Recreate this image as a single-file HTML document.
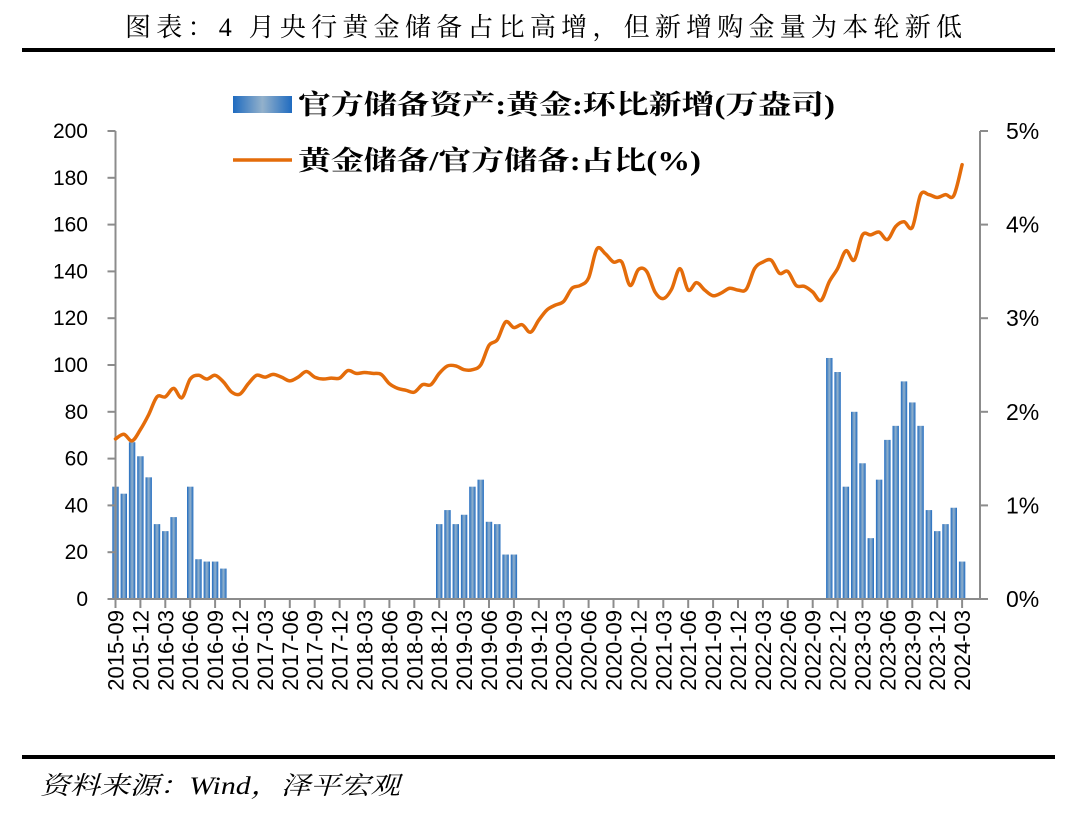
<!DOCTYPE html>
<html><head><meta charset="utf-8"><style>
body{margin:0;background:#fff;}
svg{display:block;}
</style></head><body>
<svg id="chart" width="1073" height="819" viewBox="0 0 1073 819" xmlns="http://www.w3.org/2000/svg">
<defs>
<linearGradient id="barGrad" x1="0" x2="1" y1="0" y2="0">
<stop offset="0" stop-color="#1F6BC0"/><stop offset="0.5" stop-color="#93B1CB"/><stop offset="1" stop-color="#1F6BC0"/>
</linearGradient>
</defs>
<text x="125" y="36" font-size="26" font-family="'Liberation Serif','Noto Serif CJK SC',serif" textLength="837" lengthAdjust="spacing">图表：4 月央行黄金储备占比高增，但新增购金量为本轮新低</text>
<rect x="22" y="48" width="1033" height="4" fill="#000"/>
<rect x="22" y="755" width="1033" height="4" fill="#000"/>
<text x="40" y="794" font-size="25" font-style="italic" font-family="'Liberation Serif','Noto Serif CJK SC',serif" textLength="360" lengthAdjust="spacingAndGlyphs">资料来源：Wind，泽平宏观</text>
<g>
<rect x="233" y="96" width="59" height="17" fill="url(#barGrad)"/>
<text x="298" y="114" font-size="27" font-weight="bold" font-family="'Liberation Serif','Noto Serif CJK SC',serif" textLength="537" lengthAdjust="spacingAndGlyphs">官方储备资产:黄金:环比新增(万盎司)</text>
<line x1="233" y1="160" x2="292" y2="160" stroke="#E46C0A" stroke-width="3.5"/>
<text x="298" y="170" font-size="27" font-weight="bold" font-family="'Liberation Serif','Noto Serif CJK SC',serif" textLength="403" lengthAdjust="spacingAndGlyphs">黄金储备/官方储备:占比(%)</text>
</g>
<g id="plot"></g>
</svg>
<script>
const startYear = 2015, startMonth = 9, monthCount = 103;
const barValues = [48,45,67,61,52,32,29,35,0,48,17,16,16,13,
0,0,0,0,0,0,0,0,0,0,0,0,0,0,0,0,0,0,0,0,0,0,0,0,0,
32,38,32,36,48,51,33,32,19,19,
0,0,0,0,0,0,0,0,0,0,0,0,0,0,0,0,0,0,0,0,0,0,0,0,0,0,0,0,0,0,0,0,0,0,0,0,0,
103,97,48,80,58,26,51,68,74,93,84,74,38,29,32,39,16];
const ratioValues = [1.71,1.76,1.69,1.81,1.97,2.16,2.16,2.25,2.15,2.35,2.39,2.35,2.39,2.32,2.21,2.19,2.30,2.39,2.37,2.40,2.37,2.33,2.37,2.43,2.37,2.35,2.36,2.36,2.44,2.41,2.42,2.41,2.40,2.30,2.25,2.23,2.21,2.29,2.29,2.41,2.49,2.49,2.45,2.45,2.50,2.71,2.77,2.96,2.90,2.93,2.85,2.98,3.09,3.14,3.18,3.32,3.35,3.43,3.74,3.69,3.60,3.60,3.35,3.52,3.50,3.28,3.21,3.31,3.53,3.30,3.38,3.30,3.24,3.27,3.32,3.30,3.31,3.53,3.60,3.62,3.48,3.50,3.35,3.34,3.28,3.19,3.39,3.53,3.72,3.62,3.89,3.89,3.92,3.84,3.98,4.03,3.97,4.32,4.32,4.29,4.32,4.31,4.64];
const leftTicks = [0,20,40,60,80,100,120,140,160,180,200];
const rightTicks = [0,1,2,3,4,5];
const rightTickLabels = ["0%","1%","2%","3%","4%","5%"];

const NS = "http://www.w3.org/2000/svg";
const plot = document.getElementById('plot');
const X0 = 115.5, STEP = 8.3, XR = 980, Y0 = 599, Y1 = 131;
function xPos(i){ return X0 + i*STEP; }
function yLeft(v){ return Y0 - (v/200)*(Y0-Y1); }
function yRight(v){ return Y0 - (v/5)*(Y0-Y1); }
function mk(tag, attrs){ const e = document.createElementNS(NS, tag); for (const k in attrs) e.setAttribute(k, attrs[k]); plot.appendChild(e); return e; }
const FONT = "'Liberation Sans','Noto Sans CJK SC',sans-serif";

barValues.forEach((v,i)=>{
  if (v<=0) return;
  const y = yLeft(v);
  const r = mk('rect',{x:xPos(i)-3.2,y:y,width:6.4,height:Y0-y,fill:'url(#barGrad)'});
  
  
});
let a = mk('line',{x1:X0,y1:Y1,x2:X0,y2:Y0,stroke:'#8c8c8c','stroke-width':2});


a = mk('line',{x1:XR,y1:Y1,x2:XR,y2:Y0,stroke:'#8c8c8c','stroke-width':2});


a = mk('line',{x1:X0,y1:Y0,x2:XR,y2:Y0,stroke:'#8c8c8c','stroke-width':2});


leftTicks.forEach(v=>{
  const y = yLeft(v);
  const t = mk('line',{x1:X0-8,y1:y,x2:X0,y2:y,stroke:'#8c8c8c','stroke-width':2});
  
  
  const l = mk('text',{x:88,y:y+7,'text-anchor':'end','font-size':21,'font-family':FONT});
  l.textContent = v;
  
  
});
rightTicks.forEach((v,k)=>{
  const y = yRight(v);
  const t = mk('line',{x1:XR,y1:y,x2:XR+8,y2:y,stroke:'#8c8c8c','stroke-width':2});
  
  
  const l = mk('text',{x:1006,y:y+8,'font-size':23,'font-family':FONT});
  l.textContent = rightTickLabels[k];
  
  
});
for (let i=0;i<monthCount;i+=3){
  const x = xPos(i);
  const t = mk('line',{x1:x,y1:Y0,x2:x,y2:Y0+9,stroke:'#8c8c8c','stroke-width':2});
  
  
  const m = startMonth - 1 + i, yr = startYear + Math.floor(m/12), mo = (m%12)+1;
  const l = mk('text',{x:0,y:0,'text-anchor':'end','font-size':22,'font-family':FONT,transform:`translate(${x+8},${Y0+11}) rotate(-90)`});
  l.textContent = yr + '-' + String(mo).padStart(2,'0');
  
  
}
const pts = ratioValues.map((v,i)=>[xPos(i), yRight(v)]);
let d = `M${pts[0][0]},${pts[0][1]}`;
for (let i=0;i<pts.length-1;i++){
  const p0 = pts[Math.max(0,i-1)], p1 = pts[i], p2 = pts[i+1], p3 = pts[Math.min(pts.length-1,i+2)];
  const c1x = p1[0]+(p2[0]-p0[0])/6, c1y = p1[1]+(p2[1]-p0[1])/6;
  const c2x = p2[0]-(p3[0]-p1[0])/6, c2y = p2[1]-(p3[1]-p1[1])/6;
  d += ` C${c1x},${c1y} ${c2x},${c2y} ${p2[0]},${p2[1]}`;
}
const line = mk('path',{d:d,fill:'none',stroke:'#E46C0A','stroke-width':3.5,'stroke-linejoin':'round','stroke-linecap':'round'});


</script>
</body></html>
